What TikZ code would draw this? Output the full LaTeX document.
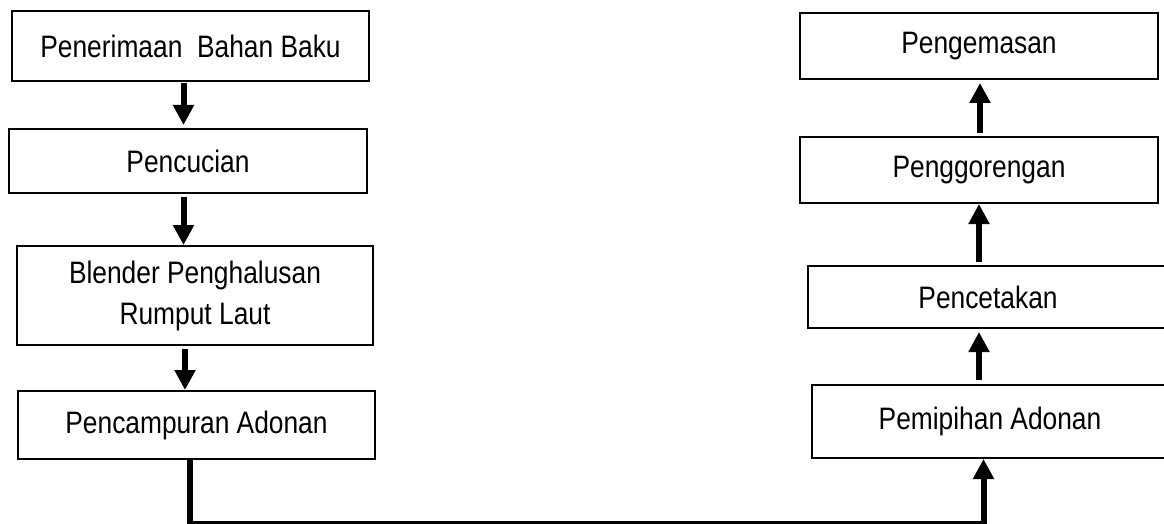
\documentclass[tikz,border=0pt]{standalone}
\usepackage{fontspec}
\setmainfont{Liberation Sans}[FakeStretch=0.85]
\usetikzlibrary{arrows.meta}
\begin{document}
\begin{tikzpicture}[x=1pt,y=-1pt,
  box/.style={draw,line width=2pt,inner sep=0pt,align=center,
    font=\fontsize{31}{41}\selectfont},
  arr/.style={line width=6pt,line join=miter,-{Triangle[width=20pt,length=20pt]}}]
\useasboundingbox (0,0) rectangle (1164,524);
\clip (0,0) rectangle (1164,524);
% left column
\node[box,minimum width=357pt,minimum height=70pt] (pen) at (190.5,46) {Penerimaan\ \ Bahan Baku};
\node[box,minimum width=358pt,minimum height=64pt] (cuc) at (188,161) {Pencucian};
\node[box,minimum width=356pt,minimum height=99pt] (ble) at (195,295.5) {Blender Penghalusan\\Rumput Laut};
\node[box,minimum width=357pt,minimum height=68pt] (cam) at (196.5,425) {Pencampuran Adonan};
% right column
\node[box,minimum width=358pt,minimum height=66pt] (kem) at (979,46) {Pengemasan};
\node[box,minimum width=358pt,minimum height=66pt] (gor) at (979,170) {Penggorengan};
\node[box,minimum width=360pt,minimum height=62pt] (cet) at (988,297) {Pencetakan};
\node[box,minimum width=356pt,minimum height=73pt] (pip) at (990,421.5) {Pemipihan Adonan};
% arrows left
\draw[arr,shorten <=1pt,shorten >=3pt] (pen.south -| 183.5,0) -- (cuc.north -| 183.5,0);
\draw[arr,shorten <=3pt] (cuc.south -| 183.5,0) -- (ble.north -| 183.5,0);
\draw[arr,shorten <=3pt] (ble.south -| 185,0) -- (cam.north -| 185,0);
% connector bottom
\coordinate (corner) at (983.5,524);
\draw[arr] (cam.south -| 190,0) |- (corner) -- (pip.south -| corner);
% arrows right
\draw[arr,shorten <=4pt,shorten >=3pt] (pip.north -| 979,0) -- (cet.south -| 979,0);
\draw[arr,shorten <=3pt] (cet.north -| 979,0) -- (gor.south -| 979,0);
\draw[arr,shorten <=3pt,shorten >=3pt] (gor.north -| 980,0) -- (kem.south -| 980,0);
\end{tikzpicture}
\end{document}
